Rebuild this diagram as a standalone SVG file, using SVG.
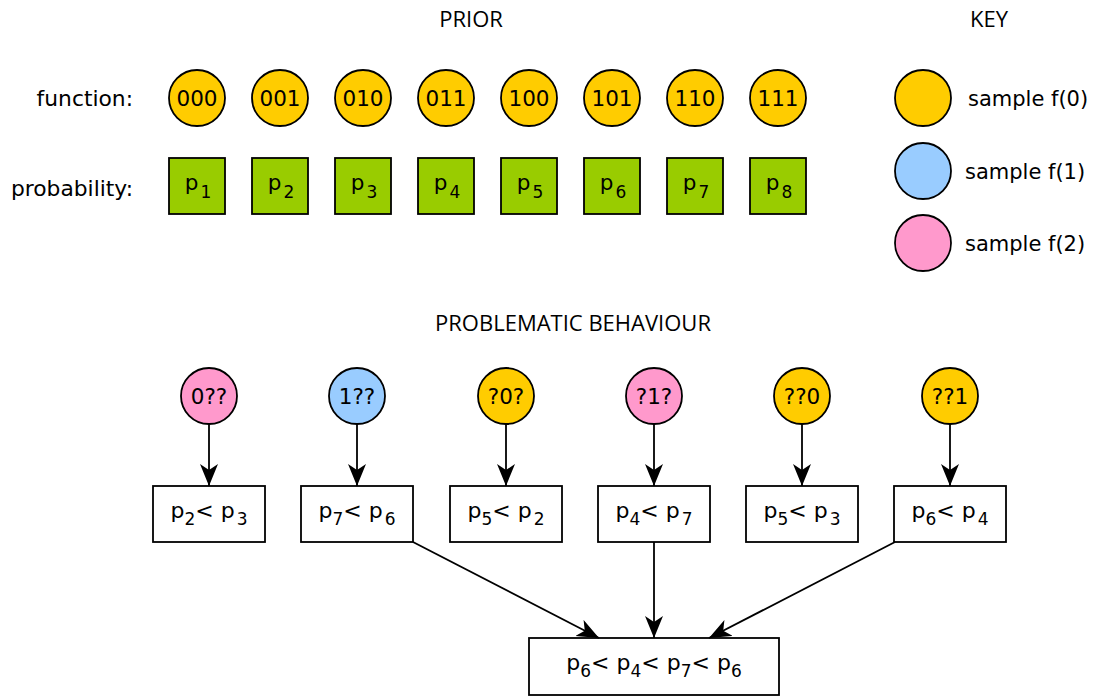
<svg xmlns="http://www.w3.org/2000/svg" width="1093" height="698" viewBox="0 0 1093 698">
  <style>
    text { font-family: "DejaVu Sans", Verdana, sans-serif; fill: #000; }
    .title { font-family: "Open Sans", "Noto Sans", sans-serif; font-size: 22px; text-anchor: middle; }
    .lbl { font-size: 21.8px; text-anchor: end; }
    .ctext { font-size: 21.5px; text-anchor: middle; }
    .key { font-size: 21px; }
    .btext { font-size: 22px; text-anchor: middle; }
    .sub { font-size: 17px; }
    .yellow { fill: #ffcc00; stroke: #000; stroke-width: 1.8; }
    .blue { fill: #99ccff; stroke: #000; stroke-width: 1.8; }
    .pink { fill: #ff99cc; stroke: #000; stroke-width: 1.8; }
    .green { fill: #99cc00; stroke: #000; stroke-width: 1.8; }
    .box { fill: #fff; stroke: #000; stroke-width: 1.8; }
    .conn { stroke: #000; stroke-width: 1.8; fill: none; marker-end: url(#arrow); }
  </style>
  <defs>
    <marker id="arrow" markerWidth="24" markerHeight="20" refX="22" refY="9" orient="auto" markerUnits="userSpaceOnUse">
      <path d="M0,0 L22,9 L0,18 L6,9 Z" fill="#000"/>
    </marker>
  </defs>

  <!-- headings -->
  <text class="title" x="471" y="27">PRIOR</text>
  <text class="title" x="989" y="27">KEY</text>
  <text class="title" x="573" y="331">PROBLEMATIC BEHAVIOUR</text>
  <text class="lbl" x="133" y="106">function:</text>
  <text class="lbl" x="133" y="196">probability:</text>

  <!-- prior functions -->
  <g id="f000"><circle class="yellow" cx="197" cy="98" r="28"/><text class="ctext" x="197" y="106">000</text></g>
  <g id="f001"><circle class="yellow" cx="280" cy="98" r="28"/><text class="ctext" x="280" y="106">001</text></g>
  <g id="f010"><circle class="yellow" cx="363" cy="98" r="28"/><text class="ctext" x="363" y="106">010</text></g>
  <g id="f011"><circle class="yellow" cx="446" cy="98" r="28"/><text class="ctext" x="446" y="106">011</text></g>
  <g id="f100"><circle class="yellow" cx="529" cy="98" r="28"/><text class="ctext" x="529" y="106">100</text></g>
  <g id="f101"><circle class="yellow" cx="612" cy="98" r="28"/><text class="ctext" x="612" y="106">101</text></g>
  <g id="f110"><circle class="yellow" cx="695" cy="98" r="28"/><text class="ctext" x="695" y="106">110</text></g>
  <g id="f111"><circle class="yellow" cx="778" cy="98" r="28"/><text class="ctext" x="778" y="106">111</text></g>

  <!-- prior probabilities -->
  <g id="p1"><rect class="green" x="169" y="158" width="56" height="56"/><text class="ctext" x="198" y="190">p<tspan class="sub" dx="2" dy="8">1</tspan></text></g>
  <g id="p2"><rect class="green" x="252" y="158" width="56" height="56"/><text class="ctext" x="281" y="190">p<tspan class="sub" dx="2" dy="8">2</tspan></text></g>
  <g id="p3"><rect class="green" x="335" y="158" width="56" height="56"/><text class="ctext" x="364" y="190">p<tspan class="sub" dx="2" dy="8">3</tspan></text></g>
  <g id="p4"><rect class="green" x="418" y="158" width="56" height="56"/><text class="ctext" x="447" y="190">p<tspan class="sub" dx="2" dy="8">4</tspan></text></g>
  <g id="p5"><rect class="green" x="501" y="158" width="56" height="56"/><text class="ctext" x="530" y="190">p<tspan class="sub" dx="2" dy="8">5</tspan></text></g>
  <g id="p6"><rect class="green" x="584" y="158" width="56" height="56"/><text class="ctext" x="613" y="190">p<tspan class="sub" dx="2" dy="8">6</tspan></text></g>
  <g id="p7"><rect class="green" x="667" y="158" width="56" height="56"/><text class="ctext" x="696" y="190">p<tspan class="sub" dx="2" dy="8">7</tspan></text></g>
  <g id="p8"><rect class="green" x="750" y="158" width="56" height="56"/><text class="ctext" x="779" y="190">p<tspan class="sub" dx="2" dy="8">8</tspan></text></g>

  <!-- key -->
  <g id="key0"><circle class="yellow" cx="923" cy="98" r="28"/><text class="key" x="968" y="106">sample f(0)</text></g>
  <g id="key1"><circle class="blue" cx="923" cy="171" r="28"/><text class="key" x="965" y="179">sample f(1)</text></g>
  <g id="key2"><circle class="pink" cx="923" cy="243" r="28"/><text class="key" x="965" y="251">sample f(2)</text></g>

  <!-- samples -->
  <g id="s0qq"><circle class="pink" cx="209" cy="396" r="28"/><text class="ctext" x="209" y="404">0??</text></g>
  <g id="s1qq"><circle class="blue" cx="357" cy="396" r="28"/><text class="ctext" x="357" y="404">1??</text></g>
  <g id="sq0q"><circle class="yellow" cx="506" cy="396" r="28"/><text class="ctext" x="506" y="404">?0?</text></g>
  <g id="sq1q"><circle class="pink" cx="654" cy="396" r="28"/><text class="ctext" x="654" y="404">?1?</text></g>
  <g id="sqq0"><circle class="yellow" cx="802" cy="396" r="28"/><text class="ctext" x="802" y="404">??0</text></g>
  <g id="sqq1"><circle class="yellow" cx="950" cy="396" r="28"/><text class="ctext" x="950" y="404">??1</text></g>

  <!-- inferred orderings -->
  <g id="c23"><rect class="box" x="153" y="486" width="112" height="56"/><text class="btext" x="209" y="518">p<tspan class="sub" dy="7">2</tspan><tspan dy="-7">&lt; p</tspan><tspan class="sub" dx="2" dy="7">3</tspan></text></g>
  <g id="c76"><rect class="box" x="301" y="486" width="112" height="56"/><text class="btext" x="357" y="518">p<tspan class="sub" dy="7">7</tspan><tspan dy="-7">&lt; p</tspan><tspan class="sub" dx="2" dy="7">6</tspan></text></g>
  <g id="c52"><rect class="box" x="450" y="486" width="112" height="56"/><text class="btext" x="506" y="518">p<tspan class="sub" dy="7">5</tspan><tspan dy="-7">&lt; p</tspan><tspan class="sub" dx="2" dy="7">2</tspan></text></g>
  <g id="c47"><rect class="box" x="598" y="486" width="112" height="56"/><text class="btext" x="654" y="518">p<tspan class="sub" dy="7">4</tspan><tspan dy="-7">&lt; p</tspan><tspan class="sub" dx="2" dy="7">7</tspan></text></g>
  <g id="c53"><rect class="box" x="746" y="486" width="112" height="56"/><text class="btext" x="802" y="518">p<tspan class="sub" dy="7">5</tspan><tspan dy="-7">&lt; p</tspan><tspan class="sub" dx="2" dy="7">3</tspan></text></g>
  <g id="c64"><rect class="box" x="894" y="486" width="112" height="56"/><text class="btext" x="950" y="518">p<tspan class="sub" dy="7">6</tspan><tspan dy="-7">&lt; p</tspan><tspan class="sub" dx="2" dy="7">4</tspan></text></g>

  <!-- cycle -->
  <g id="cycle"><rect class="box" x="529" y="638" width="250" height="57"/><text class="btext" x="654" y="670">p<tspan class="sub" dy="7">6</tspan><tspan dy="-7">&lt; p</tspan><tspan class="sub" dy="7">4</tspan><tspan dy="-7">&lt; p</tspan><tspan class="sub" dy="7">7</tspan><tspan dy="-7">&lt; p</tspan><tspan class="sub" dy="7">6</tspan></text></g>

  <!-- connectors -->
  <g id="connectors">
    <line class="conn" x1="209" y1="424" x2="209" y2="486"/>
    <line class="conn" x1="357" y1="424" x2="357" y2="486"/>
    <line class="conn" x1="506" y1="424" x2="506" y2="486"/>
    <line class="conn" x1="654" y1="424" x2="654" y2="486"/>
    <line class="conn" x1="802" y1="424" x2="802" y2="486"/>
    <line class="conn" x1="950" y1="424" x2="950" y2="486"/>
    <line class="conn" x1="413" y1="542" x2="599" y2="638"/>
    <line class="conn" x1="654" y1="542" x2="654" y2="638"/>
    <line class="conn" x1="895" y1="542" x2="709" y2="638"/>
  </g>
</svg>
